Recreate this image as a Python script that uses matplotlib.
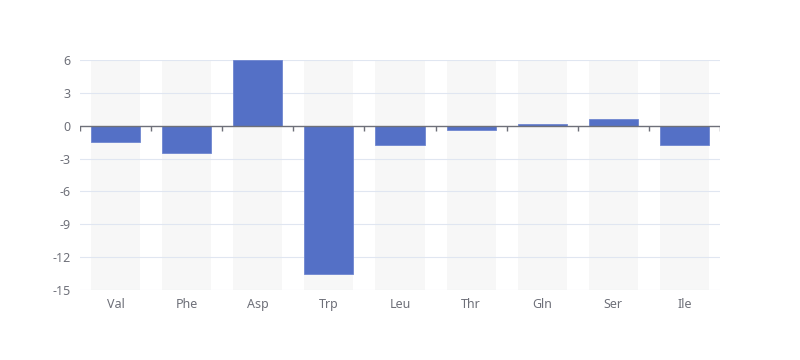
import numpy as np
import matplotlib.pyplot as plt

plt.switch_backend('agg')
plt.rcParams['font.family'] = ['Noto Sans', 'DejaVu Sans']
plt.rcParams['axes.unicode_minus'] = False

# Chart data
categories = ['Val', 'Phe', 'Asp', 'Trp', 'Leu', 'Thr', 'Gln', 'Ser', 'Ile']
values = [-1.5, -2.5, 6.0, -13.5, -1.8, -0.4, 0.2, 0.6, -1.8]
y_ticks = [-15, -12, -9, -6, -3, 0, 3, 6]

y_min, y_max = y_ticks[0], y_ticks[-1]
label_color = '#6e7079'
grid_color = '#e0e6f1'
bar_color = '#5470c6'

fig = plt.figure(figsize=(8, 3.6), dpi=100)
ax = fig.add_axes([0.1, 70 / 360, 0.8, 230 / 360])

x = np.arange(len(categories))
bar_w = 0.69

# background bars
ax.bar(x, [y_max - y_min] * len(x), bottom=y_min, width=bar_w,
       color='#f7f7f7', zorder=1)
ax.bar(x, values, width=bar_w, color=bar_color, edgecolor='#6f86d0',
       linewidth=0.6, zorder=3)

# horizontal split lines
for t in y_ticks:
    if t != 0:
        ax.axhline(t, color=grid_color, linewidth=0.8, zorder=2)

# zero axis line with boundary ticks
ax.axhline(0, color=label_color, linewidth=1, zorder=4)
px_per_unit = 230 / (y_max - y_min)
tick_len = 5 / px_per_unit
bounds = np.arange(len(categories) + 1) - 0.5
ax.vlines(bounds, -tick_len, 0, color=label_color, linewidth=1, zorder=4)

ax.set_xlim(-0.5, len(categories) - 0.5)
ax.set_ylim(y_min, y_max)
ax.set_xticks(x)
ax.set_xticklabels(categories)
ax.set_yticks(y_ticks)
ax.tick_params(axis='both', length=0, colors=label_color, labelsize=9)
ax.tick_params(axis='x', pad=6)
ax.tick_params(axis='y', pad=7)
for s in ax.spines.values():
    s.set_visible(False)

fig.savefig('out.png', dpi=100)
